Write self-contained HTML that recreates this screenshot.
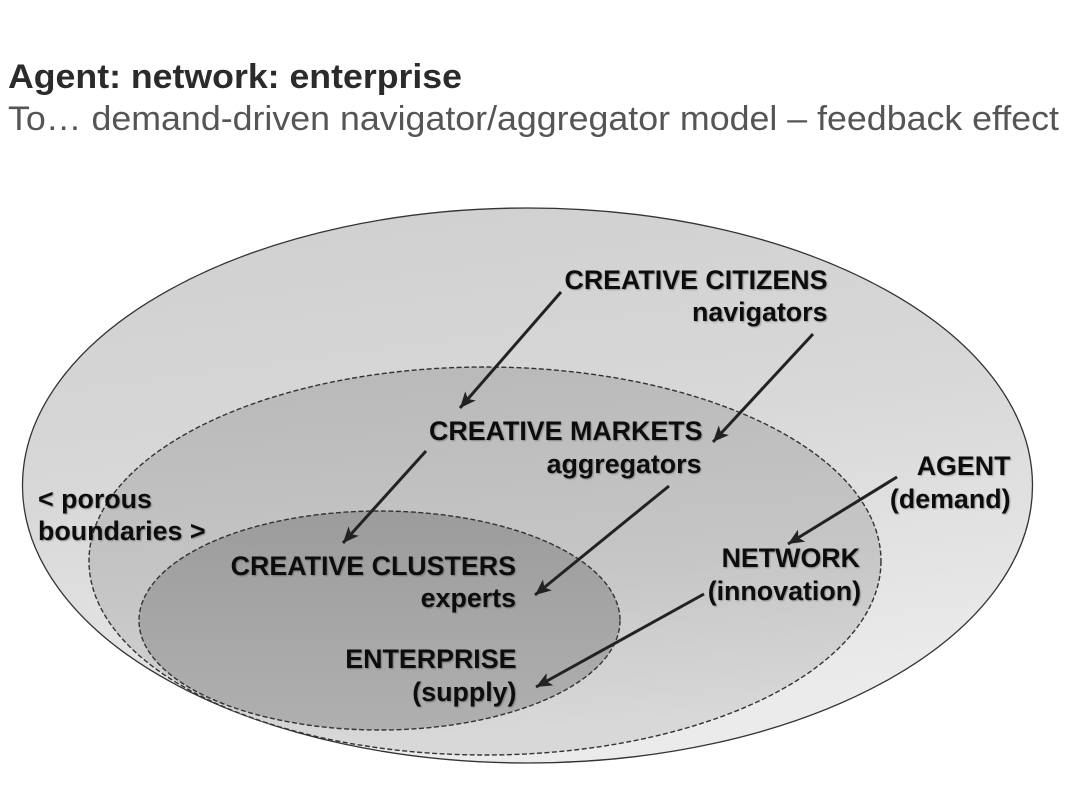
<!DOCTYPE html>
<html>
<head>
<meta charset="utf-8">
<style>
html,body{margin:0;padding:0;background:#fff;width:1070px;height:803px;overflow:hidden}
svg{display:block}
text{font-family:"Liberation Sans",Arial,sans-serif}
.l{font-weight:bold;font-size:26.8px;fill:#111;text-anchor:end;filter:url(#sh)}
.s{font-weight:bold;font-size:26.8px;fill:#111;filter:url(#sh)}
</style>
</head>
<body>
<svg width="1070" height="803" viewBox="0 0 1070 803" xmlns="http://www.w3.org/2000/svg">
<defs>
<linearGradient id="g1" x1="0" y1="0" x2="0.25" y2="1">
<stop offset="0" stop-color="#cfcfcf"/>
<stop offset="0.5" stop-color="#d8d8d8"/>
<stop offset="1" stop-color="#ebebeb"/>
</linearGradient>
<linearGradient id="g2" x1="0" y1="0" x2="0.15" y2="1">
<stop offset="0" stop-color="#b8b8b8"/>
<stop offset="0.6" stop-color="#c6c6c6"/>
<stop offset="1" stop-color="#d8d8d8"/>
</linearGradient>
<linearGradient id="g3" x1="0" y1="0" x2="0" y2="1">
<stop offset="0" stop-color="#9c9c9c"/>
<stop offset="1" stop-color="#b0b0b0"/>
</linearGradient>
<filter id="sh" x="-10%" y="-30%" width="120%" height="170%">
<feGaussianBlur in="SourceAlpha" stdDeviation="0.8"/>
<feOffset dx="1.2" dy="1.2"/>
<feComponentTransfer><feFuncA type="linear" slope="0.3"/></feComponentTransfer>
<feMerge><feMergeNode/><feMergeNode in="SourceGraphic"/></feMerge>
</filter>
<marker id="a" markerUnits="userSpaceOnUse" markerWidth="18" markerHeight="16" refX="16" refY="8" orient="auto">
<path d="M0 1 L16 8 L0 15 L4 8 Z" fill="#222"/>
</marker>
</defs>

<rect width="1070" height="803" fill="#fff"/>

<text x="8" y="88" font-size="34" font-weight="bold" fill="#2b2b2b" textLength="454" lengthAdjust="spacingAndGlyphs">Agent: network: enterprise</text>
<text x="8" y="130" font-size="34" fill="#555" textLength="1051" lengthAdjust="spacingAndGlyphs">To… demand-driven navigator/aggregator model – feedback effect</text>

<ellipse cx="527.5" cy="485.5" rx="505" ry="277.5" fill="url(#g1)" stroke="#333" stroke-width="1.3"/>
<ellipse cx="485" cy="561" rx="396" ry="194" fill="url(#g2)" stroke="#333" stroke-width="1.4" stroke-dasharray="5 2.5"/>
<ellipse cx="379.5" cy="620.5" rx="240.5" ry="109.5" fill="url(#g3)" stroke="#333" stroke-width="1.4" stroke-dasharray="5 2.5"/>

<g stroke="#222" stroke-width="3" fill="none">
<line x1="561" y1="292" x2="460" y2="408" marker-end="url(#a)"/>
<line x1="813" y1="334" x2="713" y2="442" marker-end="url(#a)"/>
<line x1="426" y1="451" x2="343" y2="543" marker-end="url(#a)"/>
<line x1="669" y1="486" x2="535" y2="595" marker-end="url(#a)"/>
<line x1="897" y1="477" x2="788" y2="544" marker-end="url(#a)"/>
<line x1="704" y1="594" x2="536" y2="687" marker-end="url(#a)"/>
</g>

<text class="l" x="827.5" y="289">CREATIVE CITIZENS</text>
<text class="l" x="827.5" y="321">navigators</text>
<text class="l" x="702.5" y="440">CREATIVE MARKETS</text>
<text class="l" x="701.5" y="473">aggregators</text>
<text class="l" x="516" y="575">CREATIVE CLUSTERS</text>
<text class="l" x="516" y="607">experts</text>
<text class="l" x="516.5" y="668">ENTERPRISE</text>
<text class="l" x="516.5" y="701">(supply)</text>
<text class="l" x="860" y="567">NETWORK</text>
<text class="l" x="861" y="600">(innovation)</text>
<text class="l" x="1010.5" y="475">AGENT</text>
<text class="l" x="1010.5" y="508">(demand)</text>
<text class="s" x="38" y="508">&lt; porous</text>
<text class="s" x="38" y="540">boundaries &gt;</text>
</svg>
</body>
</html>
